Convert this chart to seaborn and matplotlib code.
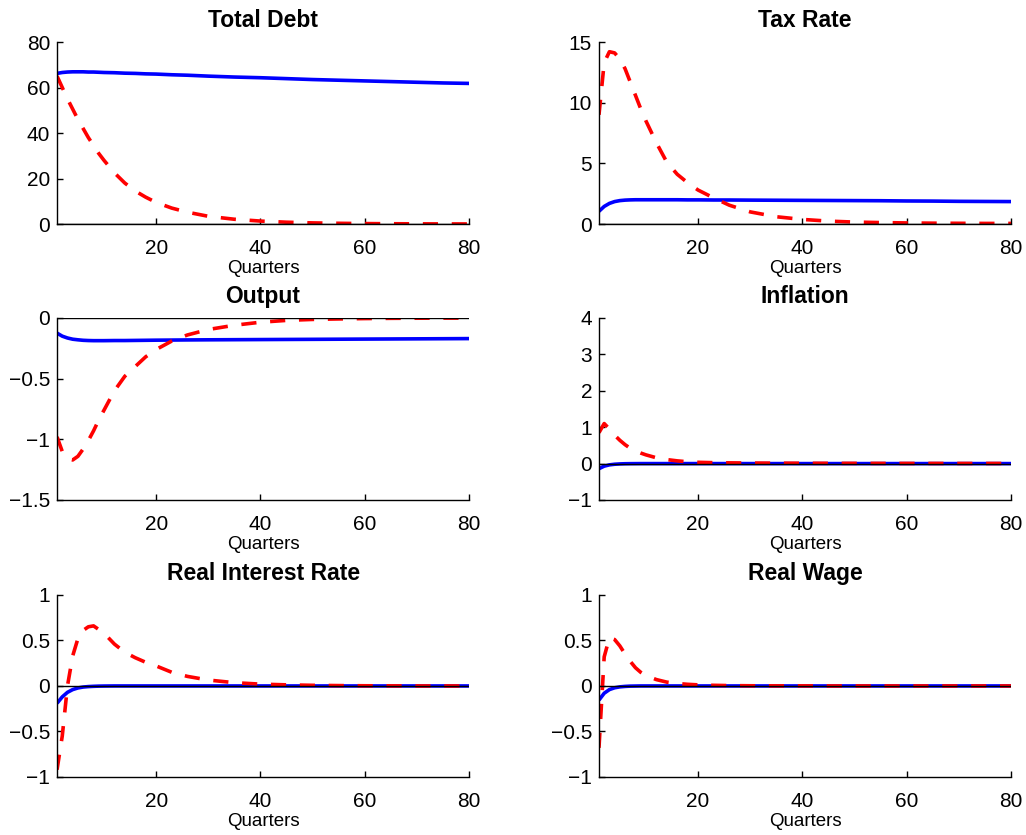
import numpy as np
import pandas as pd
import matplotlib
matplotlib.use("Agg")
import matplotlib.pyplot as plt
import seaborn as sns

# ---------------- data ----------------
quarters = [1, 2, 3, 4, 5, 6, 7, 8, 9, 10, 12, 14, 16, 18, 20, 23, 26, 30,
            35, 40, 45, 50, 55, 60, 65, 70, 75, 80]

titles = ["Total Debt", "Tax Rate", "Output", "Inflation",
          "Real Interest Rate", "Real Wage"]

debt_blue = [66.2, 66.6, 66.8, 66.9, 66.9, 66.9, 66.8, 66.8, 66.7, 66.6, 66.5,
             66.3, 66.2, 66.0, 65.9, 65.6, 65.4, 65.0, 64.6, 64.3, 63.9, 63.5,
             63.2, 62.9, 62.6, 62.3, 62.0, 61.8]
debt_red = [65.0, 60.0, 55.0, 50.5, 46.0, 42.0, 38.0, 34.5, 31.0, 28.0, 22.5,
            18.0, 14.5, 11.8, 9.5, 7.0, 5.2, 3.4, 2.1, 1.3, 0.8, 0.5, 0.32,
            0.2, 0.13, 0.08, 0.05, 0.03]

tax_blue = [1.05, 1.45, 1.7, 1.85, 1.93, 1.97, 1.99, 2.0, 2.0, 2.0, 2.0, 2.0,
            2.0, 1.99, 1.99, 1.98, 1.98, 1.97, 1.96, 1.95, 1.94, 1.93, 1.92,
            1.9, 1.89, 1.87, 1.86, 1.85]
tax_red = [9.0, 13.3, 14.2, 14.1, 13.6, 12.8, 11.7, 10.6, 9.5, 8.5, 6.7, 5.1,
           4.1, 3.4, 2.8, 2.15, 1.55, 1.0, 0.6, 0.38, 0.24, 0.16, 0.12, 0.09,
           0.07, 0.06, 0.05, 0.05]

output_blue = [-0.125, -0.15, -0.165, -0.175, -0.18, -0.184, -0.186, -0.187,
               -0.187, -0.187, -0.186, -0.186, -0.185, -0.184, -0.183, -0.182,
               -0.181, -0.180, -0.179, -0.178, -0.177, -0.176, -0.175, -0.174,
               -0.173, -0.172, -0.171, -0.170]
output_red = [-0.98, -1.10, -1.16, -1.17, -1.14, -1.08, -1.01, -0.93, -0.84,
              -0.76, -0.60, -0.48, -0.40, -0.32, -0.26, -0.19, -0.14, -0.095,
              -0.06, -0.035, -0.02, -0.012, -0.008, -0.005, -0.003, -0.002,
              -0.001, -0.001]

infl_blue = [-0.14, -0.07, -0.035, -0.018, -0.009, -0.004, -0.002, -0.001,
             0.0, 0.0, 0.0, 0.0, 0.0, 0.0, 0.0, 0.0, 0.0, 0.0, 0.0, 0.0, 0.0,
             0.0, 0.0, 0.0, 0.0, 0.0, 0.0, 0.0]
infl_red = [0.85, 1.1, 0.95, 0.78, 0.64, 0.52, 0.42, 0.35, 0.29, 0.24, 0.16,
            0.11, 0.075, 0.05, 0.035, 0.025, 0.02, 0.015, 0.012, 0.01, 0.008,
            0.007, 0.006, 0.005, 0.005, 0.004, 0.004, 0.004]

rate_blue = [-0.19, -0.12, -0.07, -0.04, -0.022, -0.012, -0.007, -0.004,
             -0.002, -0.001, 0.0, 0.0, 0.0, 0.0, 0.0, 0.0, 0.0, 0.0, 0.0, 0.0,
             0.0, 0.0, 0.0, 0.0, 0.0, 0.0, 0.0, 0.0]
rate_red = [-0.92, -0.55, 0.0, 0.33, 0.52, 0.61, 0.65, 0.66, 0.62, 0.58, 0.46,
            0.37, 0.31, 0.26, 0.22, 0.15, 0.105, 0.065, 0.036, 0.02, 0.012,
            0.007, 0.004, 0.002, 0.001, 0.0, 0.0, 0.0]

wage_blue = [-0.155, -0.08, -0.04, -0.02, -0.01, -0.005, -0.002, -0.001, 0.0,
             0.0, 0.0, 0.0, 0.0, 0.0, 0.0, 0.0, 0.0, 0.0, 0.0, 0.0, 0.0, 0.0,
             0.0, 0.0, 0.0, 0.0, 0.0, 0.0]
wage_red = [-0.68, 0.32, 0.53, 0.51, 0.44, 0.35, 0.27, 0.20, 0.15, 0.115, 0.07,
            0.042, 0.027, 0.018, 0.012, 0.007, 0.004, 0.002, 0.001, 0.001,
            0.0, 0.0, 0.0, 0.0, 0.0, 0.0, 0.0, 0.0]

blue_series = [debt_blue, tax_blue, output_blue, infl_blue, rate_blue, wage_blue]
red_series = [debt_red, tax_red, output_red, infl_red, rate_red, wage_red]

y_limits = [(0, 80), (0, 15), (-1.5, 0), (-1, 4), (-1, 1), (-1, 1)]
y_ticks = [[0, 20, 40, 60, 80], [0, 5, 10, 15], [-1.5, -1, -0.5, 0],
           [-1, 0, 1, 2, 3, 4], [-1, -0.5, 0, 0.5, 1], [-1, -0.5, 0, 0.5, 1]]
y_ticklabels = [["0", "20", "40", "60", "80"], ["0", "5", "10", "15"],
                ["\u22121.5", "\u22121", "\u22120.5", "0"],
                ["\u22121", "0", "1", "2", "3", "4"],
                ["\u22121", "\u22120.5", "0", "0.5", "1"],
                ["\u22121", "\u22120.5", "0", "0.5", "1"]]
x_ticks = [20, 40, 60, 80]
x_label = "Quarters"

# ---------------- style ----------------
sns.set_style("ticks")
plt.rcParams['font.family'] = ['Liberation Sans', 'DejaVu Sans']
plt.rcParams['axes.linewidth'] = 1.0
for key in ['text.color', 'axes.labelcolor', 'xtick.color', 'ytick.color',
            'axes.edgecolor']:
    plt.rcParams[key] = 'black'

fig = plt.figure(figsize=(10.26, 8.35), dpi=100)

lefts = [0.0556, 0.5838]
bottoms = [0.7317, 0.4012, 0.0695]
width = 0.4016
height = 0.218

for i in range(6):
    r, c = divmod(i, 2)
    ax = fig.add_axes([lefts[c], bottoms[r], width, height])
    df = pd.DataFrame({"q": quarters, "blue": blue_series[i], "red": red_series[i]})
    sns.lineplot(data=df, x="q", y="blue", ax=ax, color="#0000ff", lw=2.6,
                 solid_capstyle="butt")
    sns.lineplot(data=df, x="q", y="red", ax=ax, color="#ff0000", lw=2.6,
                 dashes=False)
    ax.lines[-1].set_dashes((4.2, 3.8))
    ax.axhline(0, color="black", lw=1.0, zorder=3)
    ax.set_xlim(1, 80)
    ax.set_ylim(*y_limits[i])
    ax.set_xticks(x_ticks)
    ax.set_xticklabels([str(t) for t in x_ticks])
    ax.set_yticks(y_ticks[i])
    ax.set_yticklabels(y_ticklabels[i])
    ax.tick_params(direction="in", length=4, width=1, labelsize=15)
    ax.tick_params(axis="x", pad=11)
    ax.tick_params(axis="y", pad=5)
    ax.set_xlabel(x_label, fontsize=13.5, labelpad=1.5)
    ax.set_ylabel("")
    ax.set_title(titles[i], fontsize=16.5, fontweight="bold", pad=11)
    sns.despine(ax=ax)
    for s in ["left", "bottom"]:
        ax.spines[s].set_zorder(4)

fig.savefig("out.png", dpi=100, facecolor="white")
